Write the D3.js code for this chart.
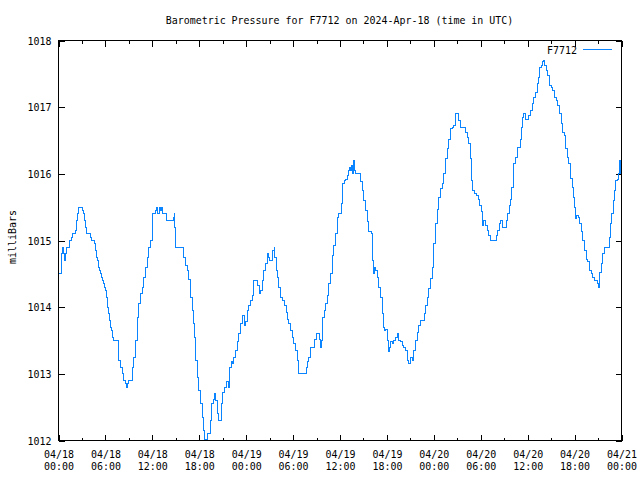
<!DOCTYPE html>
<html><head><meta charset="utf-8">
<script src="https://cdn.jsdelivr.net/npm/d3@7"></script>
<style>
body{margin:0;background:#fff}
text{font-family:"DejaVu Sans Mono",monospace;font-size:11px;fill:#000}
</style>
</head><body><svg id="c" width="640" height="480"></svg>
<script>
const chartTitle = "Barometric Pressure for F7712 on 2024-Apr-18 (time in UTC)";
const seriesName = "F7712";
const yAxisLabel = "milliBars";
const startUtc = Date.UTC(2024, 3, 18, 0, 0);
const endUtc = Date.UTC(2024, 3, 21, 0, 0);
const yTickValues = [1012, 1013, 1014, 1015, 1016, 1017, 1018];
const majorStepHours = 6;
const minorStepHours = 3;
// [hours since 04/18 00:00 UTC, pressure in mb]
const readings = [
[0.1,1014.5],[0.38,1014.8],[0.51,1014.9],[0.64,1014.8],[0.77,1014.7],[0.90,1014.8],[1.02,1014.9],[1.37,1014.9],[1.45,1015.0],[1.66,1015.05],
[1.79,1015.1],[2.08,1015.1],[2.21,1015.15],[2.34,1015.3],[2.47,1015.4],[2.60,1015.5],[2.98,1015.5],[3.11,1015.45],[3.24,1015.4],[3.36,1015.3],
[3.49,1015.2],[3.62,1015.1],[4.00,1015.1],[4.13,1015.05],[4.26,1015.0],[4.51,1015.0],[4.64,1014.95],[4.77,1014.85],[4.90,1014.75],[5.03,1014.7],
[5.15,1014.6],[5.28,1014.55],[5.41,1014.5],[5.54,1014.45],[5.67,1014.4],[5.79,1014.35],[5.92,1014.3],[6.05,1014.25],[6.18,1014.15],[6.31,1014.0],
[6.43,1013.9],[6.56,1013.8],[6.69,1013.7],[6.82,1013.65],[6.94,1013.55],[7.07,1013.5],[7.58,1013.5],[7.71,1013.2],[7.93,1013.1],[8.15,1013.0],
[8.35,1012.9],[8.57,1012.85],[8.73,1012.8],[8.82,1012.85],[8.99,1012.9],[9.25,1012.9],[9.43,1013.1],[9.63,1013.25],[9.85,1013.5],[10.06,1013.85],
[10.27,1014.05],[10.49,1014.2],[10.70,1014.3],[10.91,1014.45],[11.13,1014.6],[11.34,1014.75],[11.55,1014.9],[11.77,1015.0],[11.98,1015.4],[12.19,1015.4],
[12.41,1015.45],[12.53,1015.5],[12.70,1015.4],[12.88,1015.5],[13.04,1015.45],[13.17,1015.5],[13.34,1015.4],[13.59,1015.4],[13.81,1015.3],[14.54,1015.3],
[14.71,1015.35],[14.80,1015.4],[14.87,1015.2],[14.96,1014.9],[15.82,1014.9],[16.02,1014.75],[16.24,1014.62],[16.46,1014.55],[16.66,1014.42],[16.88,1014.15],
[17.10,1013.95],[17.30,1013.75],[17.43,1013.55],[17.52,1013.2],[17.74,1012.95],[17.94,1012.75],[18.16,1012.55],[18.38,1012.35],[18.58,1012.15],[18.71,1012.02],
[18.89,1012.0],[19.02,1012.1],[19.35,1012.1],[19.44,1012.3],[19.61,1012.55],[19.78,1012.62],[19.95,1012.7],[20.12,1012.6],[20.30,1012.4],[20.46,1012.3],
[20.72,1012.3],[20.85,1012.55],[21.01,1012.72],[21.23,1012.8],[21.45,1012.88],[21.65,1012.88],[21.78,1012.8],[21.91,1013.1],[22.09,1013.18],[22.25,1013.15],
[22.42,1013.25],[22.64,1013.35],[22.85,1013.48],[23.06,1013.6],[23.28,1013.75],[23.49,1013.88],[23.62,1013.88],[23.79,1013.72],[23.95,1013.78],[24.13,1013.95],
[24.34,1014.03],[24.55,1014.1],[24.77,1014.18],[24.98,1014.4],[25.19,1014.4],[25.41,1014.33],[25.67,1014.2],[25.83,1014.25],[26.05,1014.4],[26.26,1014.55],
[26.47,1014.65],[26.69,1014.8],[26.86,1014.75],[27.02,1014.7],[27.24,1014.7],[27.41,1014.85],[27.59,1014.9],[27.66,1014.75],[27.88,1014.55],[28.05,1014.45],
[28.17,1014.3],[28.39,1014.15],[28.61,1014.1],[28.81,1014.1],[28.94,1014.03],[29.12,1013.92],[29.33,1013.82],[29.45,1013.75],[29.67,1013.65],[29.89,1013.55],
[30.09,1013.45],[30.31,1013.35],[30.53,1013.2],[30.73,1013.0],[31.50,1013.0],[31.68,1013.1],[31.84,1013.18],[32.01,1013.25],[32.23,1013.4],[32.52,1013.4],
[32.78,1013.52],[33.00,1013.6],[33.29,1013.6],[33.42,1013.52],[33.55,1013.4],[33.64,1013.5],[33.80,1013.85],[34.02,1013.95],[34.18,1014.05],[34.36,1014.18],
[34.57,1014.35],[34.79,1014.5],[35.00,1014.78],[35.21,1014.93],[35.43,1015.1],[35.64,1015.35],[35.85,1015.4],[36.06,1015.4],[36.15,1015.55],[36.36,1015.85],
[36.54,1015.9],[36.74,1015.92],[36.92,1015.97],[37.13,1016.05],[37.25,1016.1],[37.38,1016.05],[37.51,1016.12],[37.64,1016.0],[37.77,1016.2],[37.89,1016.05],
[38.02,1016.0],[38.49,1016.0],[38.66,1015.88],[38.84,1015.75],[39.04,1015.6],[39.26,1015.45],[39.48,1015.28],[39.68,1015.13],[40.03,1015.1],[40.20,1014.7],
[40.32,1014.5],[40.45,1014.6],[40.58,1014.55],[40.76,1014.45],[40.96,1014.3],[41.18,1014.15],[41.40,1013.9],[41.56,1013.7],[41.69,1013.65],[41.82,1013.67],
[42.04,1013.5],[42.20,1013.33],[42.33,1013.4],[42.50,1013.48],[42.68,1013.45],[42.88,1013.5],[43.10,1013.55],[43.32,1013.6],[43.52,1013.5],[43.74,1013.48],
[43.96,1013.42],[44.16,1013.4],[44.38,1013.35],[44.59,1013.2],[44.80,1013.15],[45.02,1013.25],[45.23,1013.2],[45.44,1013.35],[45.66,1013.5],[45.87,1013.62],
[46.08,1013.72],[46.30,1013.8],[46.64,1013.8],[46.81,1013.9],[46.97,1014.03],[47.15,1014.15],[47.36,1014.28],[47.57,1014.43],[47.79,1014.6],[48.00,1014.95],
[48.21,1015.25],[48.43,1015.47],[48.64,1015.65],[48.85,1015.78],[49.07,1015.85],[49.28,1016.0],[49.49,1016.23],[49.71,1016.38],[49.92,1016.52],[50.13,1016.68],
[50.35,1016.7],[50.55,1016.72],[50.77,1016.9],[51.07,1016.9],[51.19,1016.8],[51.41,1016.7],[51.83,1016.7],[52.05,1016.62],[52.27,1016.55],[52.47,1016.45],
[52.69,1016.23],[52.82,1015.9],[52.98,1015.75],[53.20,1015.7],[53.46,1015.68],[53.68,1015.62],[53.88,1015.52],[54.06,1015.43],[54.23,1015.22],[54.35,1015.3],
[54.52,1015.3],[54.67,1015.22],[54.83,1015.15],[55.03,1015.08],[55.25,1015.0],[55.80,1015.0],[55.98,1015.08],[56.18,1015.15],[56.40,1015.25],[56.53,1015.3],
[56.75,1015.2],[57.13,1015.2],[57.29,1015.3],[57.46,1015.4],[57.64,1015.52],[57.81,1015.62],[57.97,1015.8],[58.15,1015.95],[58.25,1016.15],[58.45,1016.25],
[58.66,1016.4],[58.87,1016.4],[59.09,1016.52],[59.21,1016.7],[59.34,1016.85],[59.51,1016.9],[59.72,1016.82],[59.94,1016.82],[60.15,1016.87],[60.36,1016.95],
[60.58,1017.05],[60.79,1017.15],[61.00,1017.22],[61.22,1017.35],[61.43,1017.45],[61.55,1017.6],[61.77,1017.62],[61.94,1017.68],[62.07,1017.7],[62.19,1017.62],
[62.37,1017.55],[62.58,1017.47],[62.79,1017.32],[63.01,1017.3],[63.22,1017.25],[63.43,1017.15],[63.65,1017.1],[63.86,1017.03],[64.07,1016.9],[64.29,1016.75],
[64.50,1016.62],[64.71,1016.58],[64.88,1016.38],[65.06,1016.25],[65.26,1016.15],[65.48,1015.93],[65.70,1015.8],[65.86,1015.65],[65.99,1015.5],[66.16,1015.33],
[66.29,1015.38],[66.46,1015.35],[66.63,1015.25],[66.85,1015.13],[67.05,1015.0],[67.27,1014.85],[67.49,1014.72],[67.69,1014.68],[67.91,1014.55],[68.13,1014.5],
[68.33,1014.44],[68.55,1014.4],[68.77,1014.4],[68.89,1014.35],[69.06,1014.3],[69.19,1014.52],[69.41,1014.65],[69.61,1014.8],[69.83,1014.9],[70.25,1014.9],
[70.47,1015.05],[70.60,1015.25],[70.76,1015.4],[70.94,1015.6],[71.11,1015.75],[71.27,1015.9],[71.45,1015.92],[71.62,1016.0],[71.74,1016.2],[71.87,1016.0],
[71.95,1016.0]
];

const lineColor = "#0a84ff";
const sx = 0.906; // horizontal squeeze for the monospaced font
const svg = d3.select("#c");
const L = 58.5, R = 621.5, T = 40.5, B = 440.5;

const x = d3.scaleUtc().domain([new Date(startUtc), new Date(endUtc)]).range([L, R]);
const y = d3.scaleLinear().domain([yTickValues[0], yTickValues[yTickValues.length - 1]]).range([B, T]);

const hourMs = 3600e3;
const majorTicks = d3.range(startUtc, endUtc + 1, majorStepHours * hourMs).map(t => new Date(t));
const minorTicks = d3.range(startUtc, endUtc + 1, minorStepHours * hourMs)
  .filter(t => ((t - startUtc) / hourMs) % majorStepHours !== 0).map(t => new Date(t));

// title
svg.append("text").attr("text-anchor", "middle")
  .attr("transform", `translate(339.5,24) scale(${sx},1)`).text(chartTitle);

// y axis label
svg.append("text").attr("text-anchor", "middle")
  .attr("transform", `translate(15.5,237) rotate(-90) scale(${sx},1)`).text(yAxisLabel);

function styleAxis(g) {
  g.select(".domain").remove();
  g.selectAll(".tick line").attr("stroke", "#000").attr("shape-rendering", "crispEdges");
  g.selectAll("text").attr("font-family", null).attr("font-size", null);
}

// bottom major with labels
const bottom = svg.append("g").attr("transform", `translate(0,${B})`)
  .call(d3.axisBottom(x).tickValues(majorTicks).tickSizeInner(-6).tickSizeOuter(0).tickFormat(d3.utcFormat("%m/%d")))
  .call(styleAxis);
const fmtTime = d3.utcFormat("%H:%M"), fmtDate = d3.utcFormat("%m/%d");
bottom.selectAll(".tick text").each(function(d) {
  const t = d3.select(this);
  t.text(null).attr("y", null).attr("dy", null).attr("transform", `scale(${sx},1)`);
  t.append("tspan").attr("x", 0).attr("y", 17.5).text(fmtDate(d));
  t.append("tspan").attr("x", 0).attr("y", 29.5).text(fmtTime(d));
});
svg.append("g").attr("transform", `translate(0,${B})`)
  .call(d3.axisBottom(x).tickValues(minorTicks).tickSizeInner(-3).tickSizeOuter(0).tickFormat(""))
  .call(styleAxis);

// top mirror ticks
svg.append("g").attr("transform", `translate(0,${T})`)
  .call(d3.axisTop(x).tickValues(majorTicks).tickSizeInner(-6).tickSizeOuter(0).tickFormat(""))
  .call(styleAxis);
svg.append("g").attr("transform", `translate(0,${T})`)
  .call(d3.axisTop(x).tickValues(minorTicks).tickSizeInner(-3).tickSizeOuter(0).tickFormat(""))
  .call(styleAxis);

// left axis with labels
const left = svg.append("g").attr("transform", `translate(${L},0)`)
  .call(d3.axisLeft(y).tickValues(yTickValues).tickSizeInner(-6).tickSizeOuter(0).tickPadding(7).tickFormat(d3.format("d")))
  .call(styleAxis);
left.selectAll(".tick text").attr("x", -7 / sx).attr("transform", `scale(${sx},1)`);

// right mirror ticks
svg.append("g").attr("transform", `translate(${R},0)`)
  .call(d3.axisRight(y).tickValues(yTickValues).tickSizeInner(-6).tickSizeOuter(0).tickFormat(""))
  .call(styleAxis);

// data line
const line = d3.line()
  .x(d => x(new Date(startUtc + d[0] * hourMs)))
  .y(d => y(d[1]))
  .curve(d3.curveStepAfter);
svg.append("path").datum(readings)
  .attr("d", line).attr("fill", "none").attr("stroke", lineColor)
  .attr("stroke-width", 1).attr("shape-rendering", "crispEdges");

// frame
svg.append("rect").attr("x", L).attr("y", T).attr("width", R - L).attr("height", B - T)
  .attr("fill", "none").attr("stroke", "#000").attr("shape-rendering", "crispEdges");

// legend
svg.append("text").attr("text-anchor", "end")
  .attr("transform", `translate(577,54) scale(${sx},1)`).text(seriesName);
svg.append("line").attr("x1", 583).attr("x2", 612).attr("y1", 49.5).attr("y2", 49.5)
  .attr("stroke", lineColor).attr("stroke-width", 1).attr("shape-rendering", "crispEdges");
</script>
</body></html>
